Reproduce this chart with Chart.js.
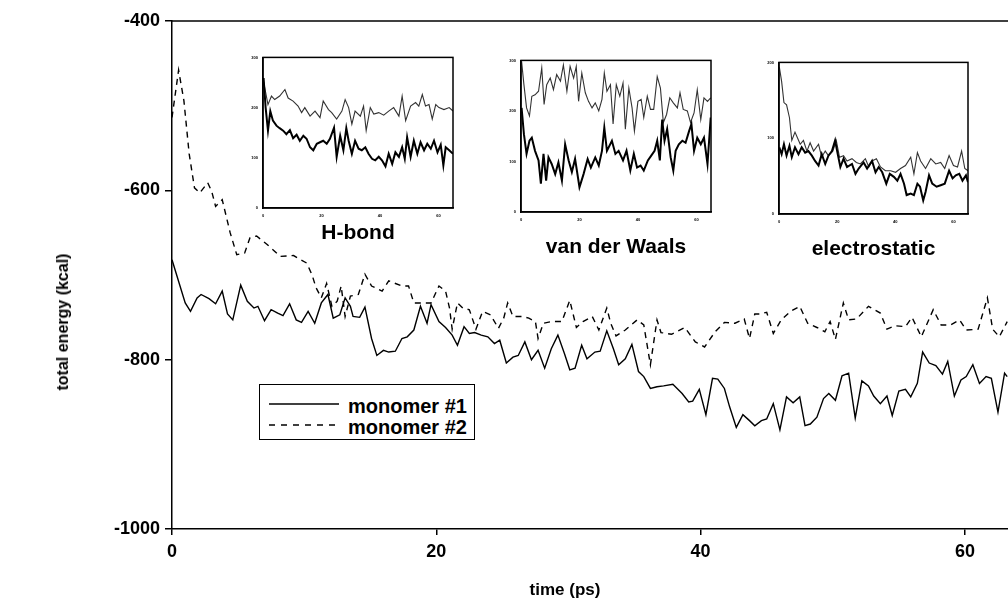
<!DOCTYPE html>
<html>
<head>
<meta charset="utf-8">
<script src="https://cdn.jsdelivr.net/npm/chart.js@4.4.1/dist/chart.umd.min.js"></script>
<style>
  html, body { margin: 0; padding: 0; background: #fff; overflow: hidden; }
  #wrap { position: relative; width: 1008px; height: 608px; overflow: hidden; background: #fff; }
  #main { position: absolute; left: 0; top: 0; }
  .inset { position: absolute; }
  #legend { position: absolute; left: 259px; top: 384px; width: 214px; height: 54px;
            border: 1.5px solid #000; background: #fff;
            font: bold 20px 'Liberation Sans', Arial, sans-serif; color: #000; }
  .lrow { position: absolute; left: 0; height: 20px; width: 214px; }
  .lrow svg { position: absolute; left: 9px; top: 4px; }
  .lrow span { position: absolute; left: 88px; top: -2px; white-space: nowrap; }
  #ytitle { position: absolute; left: 63px; top: 322px; transform: translate(-50%, -50%) rotate(-90deg);
            font: bold 16px 'Liberation Sans', Arial, sans-serif; white-space: nowrap; color: #000; }
  #xtitle { position: absolute; left: 565px; top: 590px; transform: translate(-50%, -50%);
            font: bold 17px 'Liberation Sans', Arial, sans-serif; white-space: nowrap; color: #000; }
</style>
</head>
<body>
<div id="wrap">
  <canvas id="main" width="1040" height="608"></canvas>
  <canvas id="hb" class="inset" width="216" height="208" style="left:243px;top:50px"></canvas>
  <canvas id="vdw" class="inset" width="216" height="209" style="left:501px;top:53px"></canvas>
  <canvas id="el" class="inset" width="215" height="209" style="left:759px;top:55px"></canvas>
  <div id="legend">
    <div class="lrow" style="top:12px">
      <svg width="70" height="6"><line x1="0" y1="3" x2="70" y2="3" stroke="#000" stroke-width="1.5"/></svg>
      <span id="lab1"></span>
    </div>
    <div class="lrow" style="top:33px">
      <svg width="70" height="6"><line x1="0" y1="3" x2="70" y2="3" stroke="#000" stroke-width="1.5" stroke-dasharray="6,6"/></svg>
      <span id="lab2"></span>
    </div>
  </div>
  <div id="ytitle">total energy (kcal)</div>
  <div id="xtitle">time (ps)</div>
</div>
<script>
// ---------------- main plot data ----------------
const seriesNames = ['monomer #1', 'monomer #2'];
const xTickValues = [0, 20, 40, 60];
const yTickValues = [-1000, -800, -600, -400];

const time1 = [0, 1.0, 1.4, 1.9, 2.2, 2.8, 3.3, 3.8, 4.2, 4.6, 5.2, 5.7, 6.2, 6.5, 7.0, 7.5, 8.0, 8.4, 8.9, 9.4,
  9.8, 10.3, 10.8, 11.3, 11.8, 12.2, 12.7, 13.1, 13.5, 13.7, 14.2, 14.6, 15.1, 15.5, 16.0, 16.4, 16.9, 17.4, 17.8, 18.3,
  18.8, 19.3, 19.6, 20.2, 20.7, 21.2, 21.6, 22.1, 22.5, 22.9, 23.4, 23.9, 24.4, 24.8, 25.3, 25.8, 26.2, 26.7, 27.2, 27.7,
  28.2, 28.7, 29.2, 29.7, 30.1, 30.5, 31.0, 31.4, 32.0,
  32.4, 32.9, 33.4, 33.8, 34.3, 34.8, 35.3, 35.7, 36.2, 36.7, 37.2, 37.9, 38.6, 39.1, 39.4, 39.9, 40.4, 40.9, 41.3, 41.8,
  42.2, 42.7, 43.2, 43.7, 44.1, 44.6, 45.0, 45.5, 46.0, 46.5, 47.0, 47.5, 47.9, 48.3, 48.8, 49.3, 49.7, 50.2, 50.7, 51.2,
  51.7, 52.2, 52.7, 53.1, 53.6, 54.1, 54.5, 55.0, 55.5, 55.9, 56.4, 56.8, 57.3, 57.8, 58.3, 58.7, 59.2, 59.7, 60.1, 60.6,
  61.1, 61.6, 62.0, 62.5, 63.0, 63.2];
const energy1 = [-682, -733, -743, -727, -723, -728, -734, -719, -746, -753, -712, -731, -739, -737, -754, -741, -745, -748, -734, -753,
  -756, -743, -757, -733, -723, -751, -747, -727, -737, -749, -750, -738, -775, -795, -789, -791, -790, -775, -773, -765,
  -737, -757, -735, -755, -762, -771, -783, -761, -769, -768, -771, -773, -781, -777, -804, -797, -795, -779, -800, -789,
  -810, -787, -771, -793, -812, -810, -783, -799, -791,
  -790, -766, -787, -806, -799, -782, -814, -820, -834, -832, -831, -829, -840, -850, -849, -835, -865, -822, -823, -834,
  -856, -880, -865, -872, -878, -872, -870, -852, -883, -844, -851, -844, -878, -876, -868, -846, -840, -848, -819, -816,
  -869, -825, -831, -843, -852, -843, -866, -837, -835, -844, -828, -791, -804, -807, -817, -802, -843, -824, -820, -806,
  -828, -820, -822, -862, -816, -820];

const time2 = [0, 0.5, 0.9, 1.3, 1.7, 2.1, 2.7, 3.0, 3.3, 3.8, 4.4, 4.9, 5.5, 5.9, 6.4, 7.2, 8.2, 9.2, 10.2, 10.6,
  10.9, 11.3, 11.7, 12.1, 12.5, 12.8, 13.1, 13.5, 14.1, 14.6, 15.1, 15.9, 16.4, 17.4, 17.9, 18.3, 18.9, 19.6, 20.2, 20.7,
  21.0, 21.2, 21.6, 22.0, 22.5, 23.0, 23.5, 24.1, 24.7, 25.1, 25.4, 25.8, 26.5, 27.0, 27.5, 27.7, 28.1, 28.7, 29.5, 30.1,
  30.6, 31.1, 31.8, 32.3, 32.9, 33.2, 33.6, 34.3, 35.2, 35.7, 36.2, 36.7, 37.0, 37.8, 38.8, 39.6, 40.3, 41.1, 41.8, 42.6,
  43.3, 43.7, 44.1, 44.5, 45.0, 45.5, 46.1, 46.8, 47.5, 48.1, 48.8, 49.4, 49.8, 50.2, 50.8, 51.2, 51.8, 52.7, 53.6, 54.1,
  54.7, 55.5, 56.0, 56.7, 57.6, 58.2, 58.9, 59.6, 60.1, 61.0, 61.7, 62.1, 62.6, 63.2];
const energy2 = [-514, -458, -494, -557, -597, -603, -591, -601, -619, -611, -650, -676, -674, -656, -654, -664, -678, -677, -686, -700,
  -715, -727, -710, -737, -731, -713, -749, -725, -723, -699, -713, -719, -707, -713, -713, -733, -733, -733, -713, -719,
  -739, -764, -733, -739, -741, -764, -743, -747, -763, -751, -733, -749, -749, -751, -755, -775, -757, -755, -755, -730,
  -762, -755, -749, -765, -739, -757, -772, -765, -753, -759, -806, -753, -768, -770, -762, -779, -785, -767, -756, -757,
  -752, -775, -746, -746, -744, -769, -753, -743, -737, -757, -762, -767, -755, -776, -733, -753, -752, -737, -745, -764,
  -760, -761, -750, -773, -741, -759, -759, -753, -765, -764, -727, -764, -773, -755];

// ---------------- inset data (arbitrary units, tick labels unreadable) ----------------
const insetTitles = ['H-bond', 'van der Waals', 'electrostatic'];
const insetXTicks = [0, 20, 40, 60];

const hbTime1 = [0.2, 0.9, 1.7, 2.5, 3.4, 4.6, 5.7, 6.9, 8.0, 9.2, 10.3, 11.5, 12.6, 13.8, 14.9, 16.1, 17.2, 18.4, 19.5, 20.6,
  21.8, 22.9, 24.3, 25.2, 26.4, 27.5, 28.5, 29.3, 30.4, 31.5, 32.7, 33.8, 35.0, 36.1, 37.3, 38.4, 39.6, 40.7, 41.9, 43.0,
  44.2, 45.3, 46.5, 47.6, 48.5, 49.3, 50.5, 51.6, 52.8, 53.9, 55.1, 56.2, 57.4, 58.5, 59.7, 60.8, 61.7, 62.5, 63.7, 65.0];
const hbVal1 = [259, 200, 154, 193, 174, 164, 159, 154, 147, 155, 139, 146, 134, 144, 138, 121, 115, 128, 131, 134,
  128, 138, 160, 102, 144, 115, 159, 134, 108, 134, 118, 115, 121, 108, 98, 95, 102, 95, 83, 108,
  88, 111, 102, 121, 98, 141, 102, 134, 108, 131, 115, 128, 118, 134, 111, 126, 85, 121, 115, 108];
const hbTime2 = [0.2, 1.7, 2.9, 4.0, 5.7, 7.5, 8.6, 10.3, 12.0, 13.2, 14.3, 16.1, 17.8, 19.5, 20.6, 22.4, 23.5, 25.2, 27.0, 28.1,
  29.3, 30.4, 31.5, 33.3, 34.4, 35.3, 36.7, 37.9, 39.6, 41.3, 43.0, 44.7, 46.5, 47.6, 48.8, 50.5, 52.2, 53.3, 54.5, 55.6,
  56.8, 57.9, 59.1, 60.2, 61.9, 63.7, 65.0];
const hbVal2 = [252, 206, 223, 216, 223, 236, 219, 213, 203, 190, 200, 183, 193, 180, 213, 196, 190, 177, 193, 216,
  200, 167, 193, 183, 203, 154, 200, 187, 190, 185, 193, 200, 183, 223, 174, 203, 210, 203, 226, 203,
  206, 177, 206, 200, 196, 200, 193];

const vdwTime1 = [0.2, 1.0, 1.9, 2.9, 3.7, 4.8, 6.0, 6.8, 7.7, 8.6, 9.4, 10.5, 11.7, 12.8, 14.0, 15.1, 16.3, 17.4, 18.5, 20.0,
  21.4, 22.8, 23.9, 25.4, 26.6, 27.7, 28.5, 29.4, 31.1, 32.3, 33.4, 34.9, 36.1, 37.4, 38.6, 39.7, 40.9, 42.0, 43.4, 44.5,
  45.7, 46.6, 47.5, 48.3, 49.1, 50.0, 51.2, 52.1, 52.9, 54.0, 55.2, 56.3, 57.5, 58.3, 59.2, 60.3, 61.5, 62.6, 63.8, 64.9];
const vdwVal1 = [206, 154, 115, 141, 147, 121, 102, 56, 115, 62, 108, 95, 75, 98, 62, 134, 102, 79, 105, 49,
  75, 105, 88, 108, 92, 121, 167, 121, 141, 115, 121, 102, 121, 82, 115, 88, 92, 82, 102, 111,
  121, 141, 102, 183, 141, 164, 108, 82, 121, 134, 141, 137, 160, 174, 121, 147, 134, 147, 95, 187];
const vdwTime2 = [0.2, 1.0, 1.9, 2.9, 3.7, 4.8, 6.0, 7.1, 7.9, 8.8, 10.0, 11.1, 12.2, 13.5, 14.5, 15.7, 16.8, 18.0, 18.9, 19.7,
  20.8, 22.0, 23.1, 24.3, 25.4, 26.6, 27.7, 28.5, 29.4, 30.6, 31.5, 32.6, 33.8, 34.9, 35.7, 36.9, 38.0, 38.8, 40.0, 41.1,
  42.0, 43.2, 44.3, 45.4, 46.6, 47.7, 48.7, 49.8, 50.9, 52.1, 53.5, 54.4, 55.5, 56.9, 58.0, 59.2, 60.3, 61.5, 62.6, 63.8, 64.9];
const vdwVal2 = [298, 252, 206, 190, 229, 232, 239, 285, 213, 252, 265, 242, 272, 259, 291, 239, 288, 265, 288, 219,
  275, 236, 219, 206, 216, 200, 223, 275, 239, 252, 174, 252, 229, 255, 164, 245, 206, 160, 219, 223,
  187, 229, 203, 203, 268, 245, 177, 193, 226, 216, 206, 236, 203, 200, 177, 196, 242, 183, 226, 219, 226];

const elTime1 = [0.1, 0.9, 1.7, 2.6, 3.6, 4.4, 5.5, 6.7, 7.8, 9.0, 10.1, 11.3, 12.4, 13.6, 14.7, 15.9, 17.0, 18.2, 19.3, 20.2,
  21.1, 22.2, 23.4, 25.1, 26.3, 27.4, 29.1, 30.3, 32.0, 33.2, 34.3, 35.5, 36.9, 38.1, 39.5, 40.7, 41.8, 43.0, 43.9, 45.3,
  46.4, 47.6, 48.5, 49.6, 50.4, 51.6, 52.7, 54.2, 55.6, 57.0, 58.5, 59.7, 60.8, 62.0, 63.1, 64.3, 65.0];
const elVal1 = [88, 79, 92, 77, 90, 75, 88, 79, 88, 81, 83, 77, 70, 64, 79, 66, 77, 83, 97, 79,
  62, 73, 62, 66, 53, 60, 68, 60, 70, 55, 62, 55, 40, 53, 49, 44, 53, 40, 25, 27,
  25, 40, 36, 18, 29, 51, 40, 36, 38, 40, 57, 47, 51, 53, 44, 51, 42];
const elTime2 = [0.1, 0.9, 1.7, 2.6, 3.6, 4.4, 5.5, 6.3, 7.3, 8.4, 9.6, 10.7, 11.9, 13.6, 14.7, 15.9, 17.0, 18.5, 19.7, 20.8,
  22.2, 23.4, 25.1, 26.6, 28.0, 29.7, 30.9, 32.0, 33.5, 34.9, 36.6, 38.4, 40.1, 41.8, 43.5, 45.3, 46.4, 47.6, 48.7, 50.4,
  52.2, 53.9, 55.6, 57.0, 58.5, 60.0, 61.4, 62.8, 63.9, 65.0];
const elVal2 = [194, 175, 147, 144, 127, 97, 108, 101, 92, 97, 83, 94, 83, 92, 75, 83, 77, 83, 97, 75,
  77, 70, 73, 68, 66, 73, 62, 70, 73, 62, 57, 57, 55, 60, 64, 75, 53, 81, 70, 60,
  73, 66, 68, 60, 77, 64, 62, 83, 60, 57];

// ---------------- rendering ----------------
Chart.defaults.font.family = "'Liberation Sans', Arial, sans-serif";
Chart.defaults.color = '#000';

const pts = (t, v) => t.map((x, i) => ({ x: x, y: v[i] }));
const plain = v => String(v);

document.getElementById('lab1').textContent = seriesNames[0];
document.getElementById('lab2').textContent = seriesNames[1];

const topLine = {
  id: 'topLine',
  afterDraw(chart) {
    const a = chart.chartArea, ctx = chart.ctx;
    ctx.save();
    ctx.strokeStyle = '#000';
    ctx.lineWidth = 1.5;
    ctx.beginPath();
    ctx.moveTo(a.left, a.top);
    ctx.lineTo(a.right, a.top);
    ctx.stroke();
    ctx.restore();
  }
};

const boxFrame = {
  id: 'boxFrame',
  afterDraw(chart) {
    const a = chart.chartArea, ctx = chart.ctx;
    ctx.save();
    ctx.strokeStyle = '#000';
    ctx.lineWidth = 1.5;
    ctx.strokeRect(a.left, a.top, a.right - a.left, a.bottom - a.top);
    ctx.restore();
  }
};

new Chart(document.getElementById('main'), {
  type: 'line',
  data: {
    datasets: [
      { label: seriesNames[0], data: pts(time1, energy1), borderColor: '#000', borderWidth: 1.4,
        pointRadius: 0, tension: 0, fill: false },
      { label: seriesNames[1], data: pts(time2, energy2), borderColor: '#000', borderWidth: 1.4,
        borderDash: [6, 5], pointRadius: 0, tension: 0, fill: false }
    ]
  },
  options: {
    responsive: false, animation: false, devicePixelRatio: 1,
    layout: { padding: { left: 0, top: 21, right: 9, bottom: 0 } },
    plugins: { legend: { display: false }, tooltip: { enabled: false } },
    scales: {
      x: {
        type: 'linear', min: 0, max: 65,
        afterBuildTicks: s => { s.ticks = xTickValues.map(v => ({ value: v })); },
        afterFit: s => { s.height = 79; },
        grid: { display: true, drawOnChartArea: false, drawTicks: true, tickLength: 6, color: '#000', lineWidth: 1.5 },
        border: { display: true, color: '#000', width: 1.5 },
        ticks: { font: { size: 18, weight: 'bold' }, padding: 6, maxRotation: 0, color: '#000', callback: plain }
      },
      y: {
        type: 'linear', min: -1000, max: -400,
        afterBuildTicks: s => { s.ticks = yTickValues.map(v => ({ value: v })); },
        afterFit: s => { s.width = 172; },
        grid: { display: true, drawOnChartArea: false, drawTicks: true, tickLength: 7, color: '#000', lineWidth: 1.5 },
        border: { display: true, color: '#000', width: 1.5 },
        ticks: { font: { size: 18, weight: 'bold' }, padding: 5, color: '#000', callback: plain }
      }
    }
  },
  plugins: [topLine]
});

function makeInset(id, t1, v1, t2, v2, yTicks, title, titlePad) {
  new Chart(document.getElementById(id), {
    type: 'line',
    data: {
      datasets: [
        { label: seriesNames[0], data: pts(t1, v1), borderColor: '#000', borderWidth: 2,
          pointRadius: 0, tension: 0, fill: false },
        { label: seriesNames[1], data: pts(t2, v2), borderColor: '#333', borderWidth: 1.1,
          pointRadius: 0, tension: 0, fill: false }
      ]
    },
    options: {
      responsive: false, animation: false, devicePixelRatio: 1,
      layout: { padding: { left: 0, top: 6, right: 6, bottom: 0 } },
      plugins: { legend: { display: false }, tooltip: { enabled: false } },
      scales: {
        x: {
          type: 'linear', min: 0, max: 65,
          afterBuildTicks: s => { s.ticks = insetXTicks.map(v => ({ value: v })); },
          afterFit: s => { s.height = 50; },
          grid: { display: false, drawTicks: false },
          border: { display: true, color: '#000', width: 1.5 },
          ticks: { font: { size: 4, weight: 'bold' }, padding: 5, maxRotation: 0, color: '#000', callback: plain },
          title: { display: true, text: title, font: { size: 21, weight: 'bold', lineHeight: 1 },
                   padding: { top: 0, bottom: titlePad }, color: '#000' }
        },
        y: {
          type: 'linear', min: yTicks[0], max: yTicks[yTicks.length - 1],
          afterBuildTicks: s => { s.ticks = yTicks.map(v => ({ value: v })); },
          afterFit: s => { s.width = 20; },
          grid: { display: false, drawTicks: false },
          border: { display: true, color: '#000', width: 1.5 },
          ticks: { font: { size: 4, weight: 'bold' }, padding: 5, color: '#000', callback: plain }
        }
      }
    },
    plugins: [boxFrame]
  });
}

makeInset('hb', hbTime1, hbVal1, hbTime2, hbVal2, [0, 100, 200, 300], insetTitles[0], 14.5);
makeInset('vdw', vdwTime1, vdwVal1, vdwTime2, vdwVal2, [0, 100, 200, 300], insetTitles[1], 4.5);
makeInset('el', elTime1, elVal1, elTime2, elVal2, [0, 100, 200], insetTitles[2], 4.5);
</script>
</body>
</html>
